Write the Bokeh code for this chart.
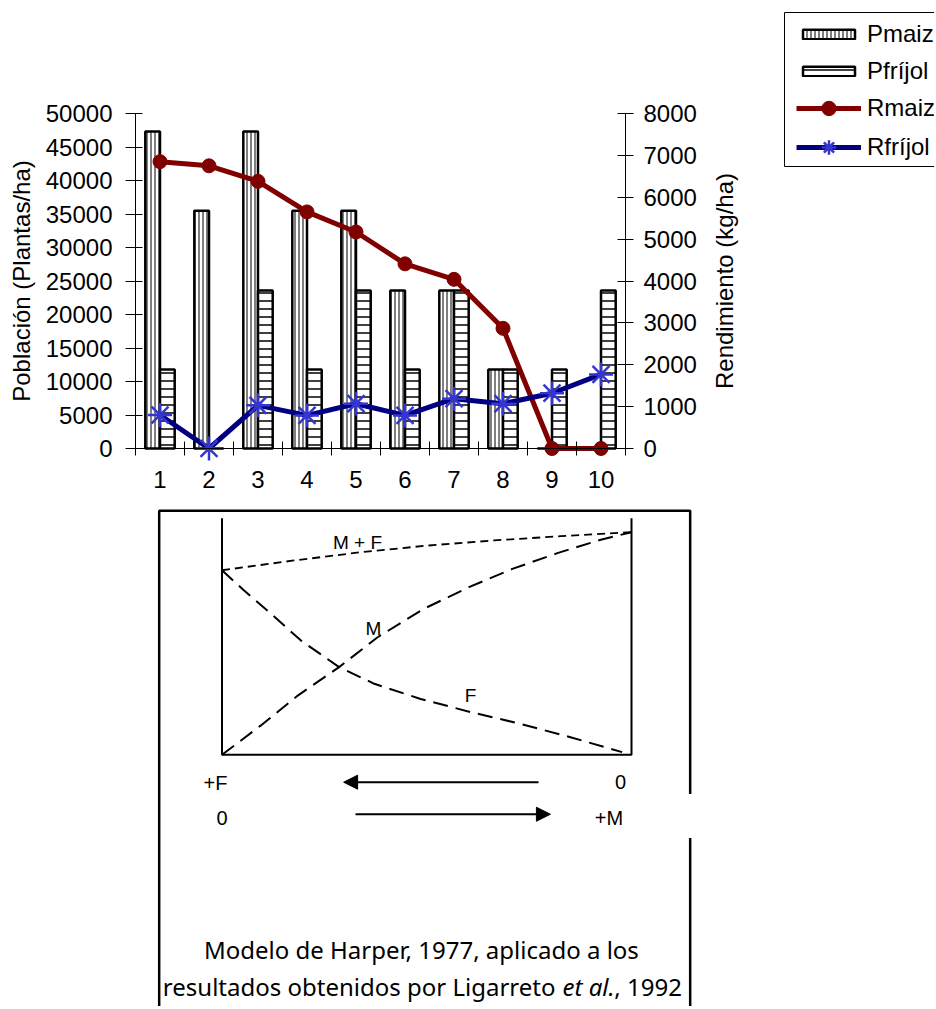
import math
from bokeh.plotting import figure
from bokeh.models import (Range1d, LinearAxis, FixedTicker, Legend, LegendItem,
                          ColumnDataSource, Arrow, NormalHead, NumeralTickFormatter,
                          BoxAnnotation)
from bokeh.core.properties import value
from bokeh.transform import dodge
from bokeh.embed import file_html
from bokeh.resources import INLINE

# ---------------- data ----------------
tratamientos = [1, 2, 3, 4, 5, 6, 7, 8, 9, 10]
tick_labels = ["1", "2", "3", "4", "5", "6", "7", "8", "9", "10"]
pmaiz = [47300, 35500, 47300, 35500, 35500, 23600, 23600, 11800, 0, 0]
pfrijol = [11800, 0, 23600, 11800, 23600, 11800, 23600, 11800, 11800, 23600]
rmaiz = [6850, 6750, 6380, 5650, 5170, 4410, 4040, 2870, 0, 0]
rfrijol = [800, 0, 1030, 790, 1070, 790, 1190, 1070, 1320, 1770]
left_ticks = [0, 5000, 10000, 15000, 20000, 25000, 30000, 35000, 40000, 45000, 50000]
right_ticks = [0, 1000, 2000, 3000, 4000, 5000, 6000, 7000, 8000]

# Harper model diagram (relative units, 0..1)
m_x = [0.0, 0.095, 0.185, 0.286, 0.380, 0.493, 0.603, 0.709, 0.819, 0.925, 1.0]
m_y = [0.0, 0.132, 0.266, 0.394, 0.528, 0.656, 0.753, 0.835, 0.906, 0.966, 1.0]
f_x = [0.0, 0.054, 0.120, 0.193, 0.286, 0.372, 0.485, 0.607, 0.729, 0.851, 0.977]
f_y = [0.829, 0.738, 0.633, 0.513, 0.394, 0.319, 0.251, 0.192, 0.139, 0.079, 0.012]
mf_x = [0.0, 0.176, 0.339, 0.502, 0.664, 0.827, 1.0]
mf_y = [0.829, 0.873, 0.910, 0.940, 0.963, 0.982, 1.0]

FONT = "Liberation Sans"
CAP_FONT = "Noto Sans"

# ---------------- canvas geometry (pixels) ----------------
W, H = 934, 1006


def span(v0, p0, v1, p1, lo, hi):
    """Range whose value v0 sits at pixel p0 and v1 at pixel p1, over pixels lo..hi."""
    k = (v1 - v0) / (p1 - p0)
    return Range1d(v0 + (lo - p0) * k, v0 + (hi - p0) * k)


x_cat = span(0.5, 135, 10.5, 625, 0, W)            # treatments
y_pop = span(0, 448, 50000, 113, H, 0)              # population axis
y_ren = span(0, 448, 8000, 113, H, 0)               # yield axis
x_dia = span(0, 221.5, 1, 631, 0, W)                # diagram x
y_dia = span(0, 754.3, 1, 531.7, H, 0)              # diagram y

p = figure(width=W, height=H, output_backend="svg", toolbar_location=None,
           x_range=x_cat, y_range=y_pop, x_axis_type=None, y_axis_type=None,
           min_border=0)
p.grid.visible = False
p.outline_line_color = None
p.extra_y_ranges = {"r": y_ren, "dy": y_dia}
p.extra_x_ranges = {"dx": x_dia}

src = ColumnDataSource(dict(x=tratamientos, pmaiz=pmaiz, pfrijol=pfrijol,
                            rmaiz=rmaiz, rfrijol=rfrijol))

b1 = p.vbar(x=dodge("x", -0.15, range=p.x_range), top="pmaiz", width=0.3, source=src,
            fill_color="white", line_color="black", line_width=2.5,
            hatch_pattern="|", hatch_color="black", hatch_scale=4, hatch_weight=1)
b2 = p.vbar(x=dodge("x", 0.15, range=p.x_range), top="pfrijol", width=0.3, source=src,
            fill_color="white", line_color="black", line_width=2.5,
            hatch_pattern="-", hatch_color="black", hatch_scale=8, hatch_weight=1.5)

l1 = p.line("x", "rmaiz", source=src, y_range_name="r", line_color="#800000",
            line_width=5, line_join="round")
s1 = p.scatter("x", "rmaiz", source=src, y_range_name="r", marker="circle", size=14,
               fill_color="#800000", line_color="#800000")
l2 = p.line("x", "rfrijol", source=src, y_range_name="r", line_color="#000080",
            line_width=5, line_join="round")
s2 = p.scatter("x", "rfrijol", source=src, y_range_name="r", marker="asterisk", size=24,
               line_color="#3535D0", line_width=2.5)

# x axis at population 0
xa = LinearAxis(fixed_location=0, bounds=(0.5, 10.5),
                ticker=FixedTicker(ticks=tratamientos,
                                   minor_ticks=[t - 0.5 for t in tratamientos]
                                   + [tratamientos[-1] + 0.5]))
xa.major_label_overrides = {t: s for t, s in zip(tratamientos, tick_labels)}
xa.major_tick_line_color = None
xa.major_tick_in = 0
xa.major_tick_out = 7
xa.minor_tick_in = 7
xa.minor_tick_out = 7
xa.minor_tick_line_color = "black"
xa.major_label_standoff = 15
p.add_layout(xa, "below")

# left axis
ya = LinearAxis(fixed_location=0.5, bounds=(0, 50000),
                ticker=FixedTicker(ticks=left_ticks),
                formatter=NumeralTickFormatter(format="0"),
                axis_label="Población (Plantas/ha)")
ya.minor_tick_line_color = None
ya.major_tick_in = 7
ya.major_tick_out = 10
ya.major_label_standoff = 13
ya.axis_label_standoff = 8
p.add_layout(ya, "left")

# right axis
yr = LinearAxis(y_range_name="r", fixed_location=10.5, bounds=(0, 8000),
                ticker=FixedTicker(ticks=right_ticks),
                formatter=NumeralTickFormatter(format="0"))
yr.minor_tick_line_color = None
yr.major_tick_in = 8
yr.major_tick_out = 8
yr.major_label_standoff = 10
p.add_layout(yr, "right")

for ax in (xa, ya, yr):
    ax.major_label_text_font = FONT
    ax.major_label_text_font_size = "24px"
    ax.major_label_text_color = "black"
    ax.axis_label_text_font = FONT
    ax.axis_label_text_font_size = "24px"
    ax.axis_label_text_font_style = "normal"
    ax.axis_label_text_color = "black"
    ax.axis_line_color = "black"
    ax.axis_line_width = 1

for ax in (ya, yr):
    ax.major_tick_line_color = "black"

# right axis title (reads bottom to top, centred on the axis)
right_title_x = x_cat.start + (724 - 0) * (x_cat.end - x_cat.start) / W
p.text(x=[right_title_x], y=[right_ticks[-1] / 2], text=["Rendimiento (kg/ha)"],
       y_range_name="r", angle=math.pi / 2, text_font=value(FONT),
       text_font_size="24px", text_align="center", text_baseline="middle",
       text_color="black")

# legend: one frame, two item groups (bars with flat swatches, lines with markers)
p.add_layout(BoxAnnotation(left=784, right=W + 10, top=H - 12, bottom=H - 166,
                           left_units="screen", right_units="screen",
                           top_units="screen", bottom_units="screen",
                           fill_color="white", fill_alpha=1,
                           line_color="black", line_width=1, line_alpha=1))

common = dict(orientation="vertical", glyph_width=65, label_standoff=6,
              padding=0, margin=0, label_text_font=FONT, label_text_font_size="24px",
              label_text_color="black", border_line_color=None,
              background_fill_alpha=0)
leg_a = Legend(items=[LegendItem(label="Pmaiz", renderers=[b1]),
                      LegendItem(label="Pfríjol", renderers=[b2])],
               location=(796, H - 85), glyph_height=12, spacing=9, **common)
leg_b = Legend(items=[LegendItem(label="Rmaiz", renderers=[l1, s1]),
                      LegendItem(label="Rfríjol", renderers=[l2, s2])],
               location=(796, H - 165), glyph_height=36, spacing=3, **common)
p.add_layout(leg_a)
p.add_layout(leg_b)

# ---------------- lower diagram (Harper model) ----------------
D = dict(x_range_name="dx", y_range_name="dy")

# outer box (left, top, right with a gap)
bl, br, bt = -0.1534, 1.1433, 1.096
p.line(x=[bl, bl, br, br], y=[-1.5, bt, bt, -0.176], line_color="black",
       line_width=2.5, **D)
p.line(x=[br, br], y=[-0.374, -1.5], line_color="black", line_width=2.5, **D)

# diagram frame (left, bottom, right)
p.line(x=[0, 0, 1, 1], y=[1.063, 0, 0, 1.063], line_color="black", line_width=2, **D)

p.line(mf_x, mf_y, line_color="black", line_width=1.8, line_dash="8 5", **D)
p.line(m_x, m_y, line_color="black", line_width=2, line_dash="15 8", **D)
p.line(f_x, f_y, line_color="black", line_width=2, line_dash="15 8", **D)

p.text(x=[0.331, 0.370, 0.607], y=[0.955, 0.568, 0.266], text=["M + F", "M", "F"],
       text_font=value(FONT), text_font_size="19px", text_align="center",
       text_baseline="middle", text_color="black", **D)
p.text(x=[-0.016, 0.973, 0.0, 0.945], y=[-0.128, -0.124, -0.282, -0.284],
       text=["+F", "0", "0", "+M"],
       text_font=value(FONT), text_font_size="20px", text_align="center",
       text_baseline="middle", text_color="black", **D)

p.add_layout(Arrow(end=NormalHead(size=14, fill_color="black", line_color="black"),
                   x_start=0.773, y_start=-0.123, x_end=0.297, y_end=-0.123,
                   line_width=2, line_color="black", **D))
p.add_layout(Arrow(end=NormalHead(size=14, fill_color="black", line_color="black"),
                   x_start=0.326, y_start=-0.267, x_end=0.802, y_end=-0.267,
                   line_width=2, line_color="black", **D))

CAP = dict(text_font=value(CAP_FONT), text_font_size="24px",
           text_baseline="alphabetic", text_color="black", **D)
p.text(x=[0.487], y=[-0.874], text=["Modelo de Harper, 1977, aplicado a los"],
       text_align="center", **CAP)
p.text(x=[0.8144], y=[-1.041], text=["resultados obtenidos por Ligarreto"],
       text_align="right", **CAP)
p.text(x=[0.8315], y=[-1.041], text=["et al."], text_font_style="italic",
       text_align="left", **CAP)
p.text(x=[0.958], y=[-1.041], text=[", 1992"], text_align="left", **CAP)

open("out.html", "w").write(file_html(p, INLINE))
